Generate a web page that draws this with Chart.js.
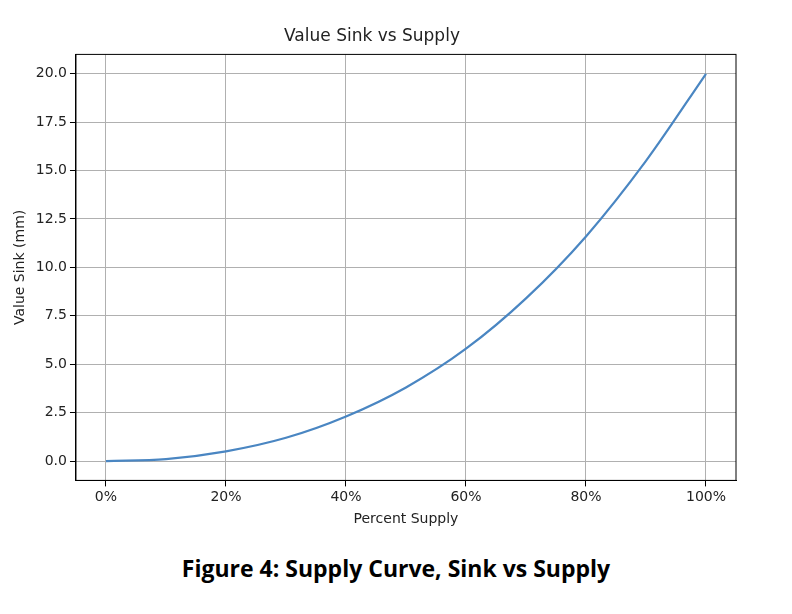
<!DOCTYPE html>
<html><head><meta charset="utf-8">
<script src="https://cdn.jsdelivr.net/npm/chart.js@4"></script>
<style>
body{margin:0;background:#fff;width:792px;height:614px;position:relative;font-family:"DejaVu Sans";}
#wrap{position:absolute;left:0;top:0;width:792px;height:530px;}
#cap{position:absolute;left:0;width:792px;top:552px;text-align:center;font:bold 23px "Open Sans",sans-serif;color:#000;}
</style></head><body>
<div id="wrap"><canvas id="c" width="792" height="530"></canvas></div>
<div id="cap">Figure 4: Supply Curve, Sink vs Supply</div>
<script>
var supply = [0, 10, 20, 30, 40, 50, 60, 70, 80, 90, 100];
var sink = [0, 0.1, 0.5, 1.2, 2.3, 3.8, 5.8, 8.4, 11.6, 15.5, 20];
var xTicks = [0, 20, 40, 60, 80, 100];
var yTicks = [0, 2.5, 5, 7.5, 10, 12.5, 15, 17.5, 20];

var frame = {
    id: 'frame',
    afterDraw: function(chart){
        var a = chart.chartArea, ctx = chart.ctx;
        ctx.save();
        ctx.strokeStyle = '#000';
        ctx.lineWidth = 1;
        ctx.strokeRect(a.left, a.top, a.right - a.left, a.bottom - a.top);
        ctx.restore();
    }
};
var font = {family: 'DejaVu Sans', size: 14};
new Chart(document.getElementById('c'), {
    type: 'line',
    data: {
        datasets: [{
            data: supply.map(function(s, i){ return {x: s, y: sink[i]}; }),
            borderColor: '#4a86c2',
            borderWidth: 2.2,
            pointRadius: 0,
            cubicInterpolationMode: 'monotone'
        }]
    },
    plugins: [frame],
    options: {
        responsive: false,
        animation: false,
        layout: {padding: {left: 8, right: 56, top: 0, bottom: 0}},
        plugins: {
            legend: {display: false},
            tooltip: {enabled: false},
            title: {display: true, text: 'Value Sink vs Supply', color: '#222', font: {family: 'DejaVu Sans', size: 17, weight: 'normal'}, padding: {top: 26, bottom: 8}}
        },
        scales: {
            x: {
                type: 'linear', min: -5, max: 105,
                afterBuildTicks: function(ax){ ax.ticks = xTicks.map(function(v){ return {value: v}; }); },
                ticks: {color: '#222', font: font, callback: function(v){ return v + '%'; }},
                grid: {color: '#b0b0b0', tickLength: 6, tickColor: '#000'},
                border: {color: '#000'},
                title: {display: true, text: 'Percent Supply', color: '#222', font: font, padding: 2}
            },
            y: {
                min: -1, max: 21,
                afterBuildTicks: function(ax){ ax.ticks = yTicks.map(function(v){ return {value: v}; }); },
                ticks: {color: '#222', font: font, callback: function(v){ return v.toFixed(1); }},
                grid: {color: '#b0b0b0', tickLength: 6, tickColor: '#000'},
                border: {color: '#000'},
                title: {display: true, text: 'Value Sink (mm)', color: '#222', font: font, padding: 4}
            }
        }
    }
});
</script>
</body></html>
